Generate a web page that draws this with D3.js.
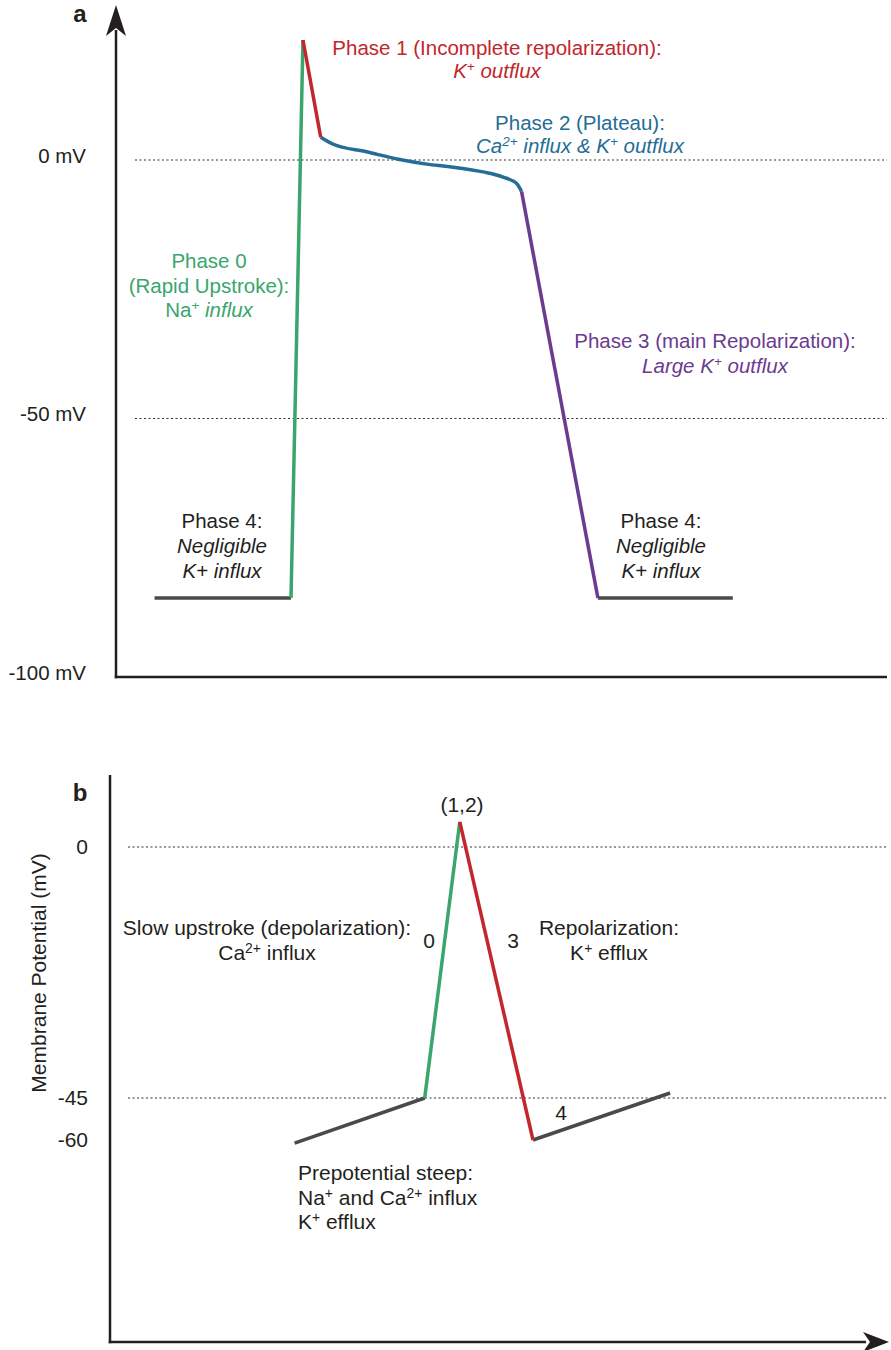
<!DOCTYPE html>
<html>
<head>
<meta charset="utf-8">
<script src="https://cdn.jsdelivr.net/npm/d3@7"></script>
<style>
  html, body { margin: 0; padding: 0; background: #fff; }
  svg { display: block; }
  text { font-family: "Liberation Sans", Arial, Helvetica, sans-serif; }
</style>
</head>
<body>
<svg id="chart" width="891" height="1350"></svg>
<script>
// ---------- DATA ----------
// Panel a: ventricular action potential (time in arbitrary units, membrane potential in mV)
const aTicks = [0, -50, -100];
const aPhase4Left  = [[5, -84.7], [22.7, -84.7]];
const aPhase0      = [[22.7, -84.7], [24.25, 23.2]];
const aPhase1      = [[24.25, 23.2], [26.55, 4.4]];
const aPhase2      = [[26.55, 4.4], [28.1, 3.1], [32.5, 1.6], [36.8, 0.1], [40.3, -0.8], [43.3, -1.3], [47.6, -2.3], [50.2, -3.3], [52.0, -4.6], [52.6, -6.1]];
const aPhase3      = [[52.6, -6.1], [62.5, -84.7]];
const aPhase4Right = [[62.5, -84.7], [80, -84.7]];

// Panel b: pacemaker (SA node) action potential
const bTicks = [0, -45, -60];
const bPrepot  = [[23.7, -61.1], [40.4, -45]];
const bPhase0  = [[40.4, -45], [44.9, 4.5]];
const bPhase3  = [[44.9, 4.5], [54.3, -60]];
const bPhase4  = [[54.3, -60], [71.9, -44.1]];

// ---------- STYLE ----------
const C = {
  green: "#3aa56c", red: "#c1272d", blue: "#246d96", purple: "#6b3b8f",
  gray: "#4a4a4a", ink: "#231f20"
};
const FA = 20.5, FB = 21;

const svg = d3.select("#chart");

// ---------- helpers ----------
function richText(g, x, ys, lines, opts) {
  const fs = opts.size || FA;
  lines.forEach((segs, i) => {
    if (typeof segs === "string") segs = [[segs]];
    const t = g.append("text")
      .attr("x", x).attr("y", ys[i])
      .attr("text-anchor", opts.anchor || "middle")
      .attr("fill", opts.color || C.ink)
      .attr("font-size", fs);
    let shifted = false;
    segs.forEach(([txt, st]) => {
      st = st || "";
      const sp = t.append("tspan").text(txt);
      if (st.includes("i")) sp.attr("font-style", "italic");
      if (st.includes("s")) {
        sp.attr("font-size", fs * 0.66).attr("dy", -fs * 0.33);
        shifted = true;
      } else if (shifted) {
        sp.attr("dy", fs * 0.33);
        shifted = false;
      }
    });
  });
}

function drawSeg(g, data, x, y, color, curve) {
  const line = d3.line().x(d => x(d[0])).y(d => y(d[1])).curve(curve || d3.curveLinear);
  g.append("path").datum(data)
    .attr("d", line)
    .attr("fill", "none")
    .attr("stroke", color)
    .attr("stroke-width", 3.5)
    .attr("stroke-linecap", "butt")
    .attr("stroke-linejoin", "round");
}

function dotted(g, x1, x2, yv) {
  g.append("line")
    .attr("x1", x1).attr("x2", x2)
    .attr("y1", yv).attr("y2", yv)
    .attr("stroke", "#333").attr("stroke-width", 1.2)
    .attr("stroke-dasharray", "2,2.5");
}

// ================= PANEL A =================
const xa = d3.scaleLinear().domain([0, 100]).range([116, 887]);
const ya = d3.scaleLinear().domain([-100, 0]).range([677, 160]);
const ga = svg.append("g");

[0, -50].forEach(v => dotted(ga, 135, 887, ya(v)));

const axA = d3.axisLeft(ya).tickValues(aTicks).tickFormat(d => d + " mV").tickSize(0).tickPadding(30);
ga.append("g").attr("transform", `translate(${xa(0)},0)`).call(axA)
  .call(g => g.select(".domain").remove())
  .call(g => g.selectAll("text")
      .attr("font-size", FA).attr("fill", C.ink).attr("dy", "0.1em")
      .attr("font-family", "'Liberation Sans', Arial, Helvetica, sans-serif"));

ga.append("line").attr("x1", xa(0)).attr("x2", xa(0)).attr("y1", 30).attr("y2", ya(-100) + 1.25)
  .attr("stroke", C.ink).attr("stroke-width", 2.5);
ga.append("line").attr("x1", xa(0) - 1.25).attr("x2", xa(100)).attr("y1", ya(-100)).attr("y2", ya(-100))
  .attr("stroke", C.ink).attr("stroke-width", 2.5);
ga.append("path")
  .attr("d", `M${xa(0)},5 L${xa(0) + 10},36 L${xa(0)},28 L${xa(0) - 10},36 Z`)
  .attr("fill", C.ink);

drawSeg(ga, aPhase4Left, xa, ya, C.gray);
drawSeg(ga, aPhase4Right, xa, ya, C.gray);
drawSeg(ga, aPhase2, xa, ya, C.blue, d3.curveMonotoneX);
drawSeg(ga, aPhase3, xa, ya, C.purple);
drawSeg(ga, aPhase0, xa, ya, C.green);
drawSeg(ga, aPhase1, xa, ya, C.red);

ga.append("text").attr("x", 80).attr("y", 22).attr("text-anchor", "middle")
  .attr("font-size", 24).attr("font-weight", "bold").attr("fill", C.ink).text("a");

richText(ga, 497, [55, 78], [
  "Phase 1 (Incomplete repolarization):",
  [["K", "i"], ["+", "is"], [" outflux", "i"]]
], { color: C.red });

richText(ga, 580, [130, 153], [
  "Phase 2 (Plateau):",
  [["Ca", "i"], ["2+", "is"], [" influx & K", "i"], ["+", "is"], [" outflux", "i"]]
], { color: C.blue });

richText(ga, 209, [268, 293, 317], [
  "Phase 0",
  "(Rapid Upstroke):",
  [["Na"], ["+", "s"], [" "], ["influx", "i"]]
], { color: C.green });

richText(ga, 715, [348, 373], [
  "Phase 3 (main Repolarization):",
  [["Large K", "i"], ["+", "is"], [" outflux", "i"]]
], { color: C.purple });

[222, 661].forEach(cx => {
  richText(ga, cx, [528, 553, 578], [
    "Phase 4:",
    [["Negligible", "i"]],
    [["K+ influx", "i"]]
  ], { color: C.ink });
});

// ================= PANEL B =================
const xb = d3.scaleLinear().domain([0, 100]).range([110, 889]);
const yb = d3.scaleLinear().domain([-60, -45, 0]).range([1140, 1098, 847]);
const gb = svg.append("g");

[0, -45].forEach(v => dotted(gb, 128, 888, yb(v)));

const axB = d3.axisLeft(yb).tickValues(bTicks).tickFormat(d => String(d)).tickSize(0).tickPadding(22);
gb.append("g").attr("transform", `translate(${xb(0)},0)`).call(axB)
  .call(g => g.select(".domain").remove())
  .call(g => g.selectAll("text")
      .attr("font-size", FB).attr("fill", C.ink)
      .attr("font-family", "'Liberation Sans', Arial, Helvetica, sans-serif"));

const bBottom = 1342;
gb.append("line").attr("x1", xb(0)).attr("x2", xb(0)).attr("y1", 775).attr("y2", bBottom + 1.25)
  .attr("stroke", C.ink).attr("stroke-width", 2.5);
gb.append("line").attr("x1", xb(0) - 1.25).attr("x2", 866).attr("y1", bBottom).attr("y2", bBottom)
  .attr("stroke", C.ink).attr("stroke-width", 2.5);
gb.append("path")
  .attr("d", `M889,${bBottom} L863,${bBottom - 10} L870,${bBottom} L863,${bBottom + 10} Z`)
  .attr("fill", C.ink);

drawSeg(gb, bPrepot, xb, yb, C.gray);
drawSeg(gb, bPhase4, xb, yb, C.gray);
drawSeg(gb, bPhase0, xb, yb, C.green);
drawSeg(gb, bPhase3, xb, yb, C.red);

gb.append("text").attr("x", 80).attr("y", 801).attr("text-anchor", "middle")
  .attr("font-size", 24).attr("font-weight", "bold").attr("fill", C.ink).text("b");

gb.append("text")
  .attr("transform", "translate(46,973) rotate(-90)")
  .attr("text-anchor", "middle").attr("font-size", FB).attr("fill", C.ink)
  .text("Membrane Potential (mV)");

richText(gb, 462, [812], ["(1,2)"], { size: FB });
richText(gb, 267, [935, 960], [
  "Slow upstroke (depolarization):",
  [["Ca"], ["2+", "s"], [" influx"]]
], { size: FB });
richText(gb, 429, [948], ["0"], { size: FB });
richText(gb, 513, [948], ["3"], { size: FB });
richText(gb, 609, [935, 960], [
  "Repolarization:",
  [["K"], ["+", "s"], [" efflux"]]
], { size: FB });
richText(gb, 561, [1120], ["4"], { size: FB });
richText(gb, 298, [1180, 1205, 1229], [
  "Prepotential steep:",
  [["Na"], ["+", "s"], [" and Ca"], ["2+", "s"], [" influx"]],
  [["K"], ["+", "s"], [" efflux"]]
], { size: FB, anchor: "start" });
</script>
</body>
</html>
